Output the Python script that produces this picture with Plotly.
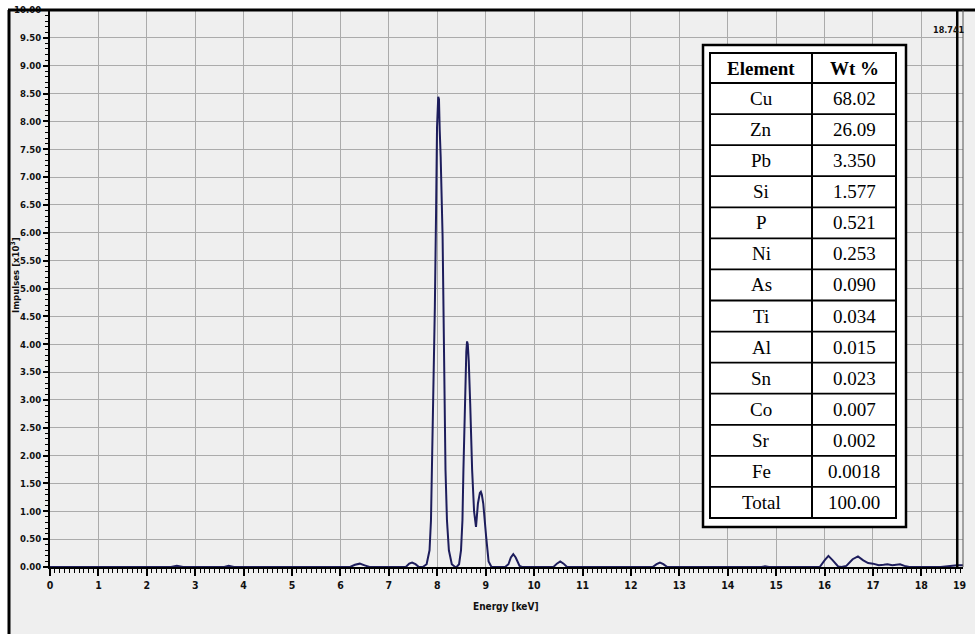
import plotly.graph_objects as go

# ---------------- data ----------------
energy_kev = [
    0.00, 2.50, 2.62, 2.75, 3.60, 3.69, 3.80, 6.20, 6.30, 6.40, 6.50, 6.60,
    7.35, 7.42, 7.48, 7.55, 7.62, 7.70,
    7.78, 7.84, 7.87, 7.89, 7.92, 7.94, 7.95, 7.975, 7.995, 8.02, 8.035, 8.05,
    8.07, 8.11, 8.13, 8.14, 8.17, 8.20, 8.24, 8.30, 8.37,
    8.40, 8.45, 8.49, 8.52, 8.54, 8.57, 8.59, 8.60, 8.615, 8.63, 8.65, 8.66,
    8.68, 8.72, 8.76, 8.80, 8.84, 8.88, 8.90, 8.92, 8.95, 9.01, 9.06, 9.12,
    9.40, 9.47, 9.52, 9.57, 9.62, 9.70, 9.75,
    10.40, 10.47, 10.54, 10.61, 10.68,
    12.45, 12.53, 12.60, 12.67, 12.75,
    14.70, 14.77, 14.85,
    15.90, 16.00, 16.08, 16.17, 16.28, 16.35, 16.45, 16.58, 16.69, 16.80,
    16.90, 17.00, 17.12, 17.22, 17.30, 17.40, 17.50, 17.56, 17.65, 17.75,
    18.40, 18.60, 18.74, 18.86,
]
impulses_k = [
    0.00, 0.00, 0.02, 0.00, 0.00, 0.02, 0.00, 0.00, 0.04, 0.06, 0.03, 0.00,
    0.00, 0.06, 0.08, 0.05, 0.00, 0.00,
    0.05, 0.30, 0.84, 1.74, 2.94, 3.54, 4.67, 6.35, 7.90, 8.44, 8.40, 7.85,
    7.37, 5.93, 4.31, 2.94, 1.74, 0.84, 0.30, 0.05, 0.00,
    0.00, 0.05, 0.30, 0.84, 1.74, 2.94, 3.54, 3.87, 4.05, 4.00, 3.70, 3.50,
    2.94, 1.74, 1.00, 0.72, 1.14, 1.33, 1.35, 1.30, 1.14, 0.54, 0.10, 0.00,
    0.00, 0.05, 0.17, 0.23, 0.17, 0.02, 0.00,
    0.00, 0.06, 0.10, 0.06, 0.00,
    0.00, 0.05, 0.08, 0.05, 0.00,
    0.00, 0.015, 0.00,
    0.00, 0.12, 0.20, 0.12, 0.01, 0.00, 0.02, 0.14, 0.19, 0.12,
    0.07, 0.06, 0.03, 0.04, 0.05, 0.03, 0.04, 0.05, 0.02, 0.00,
    0.00, 0.02, 0.03, 0.03,
]

elements = ["Cu", "Zn", "Pb", "Si", "P", "Ni", "As", "Ti", "Al", "Sn", "Co", "Sr", "Fe", "Total"]
wt_percent = ["68.02", "26.09", "3.350", "1.577", "0.521", "0.253", "0.090", "0.034",
              "0.015", "0.023", "0.007", "0.002", "0.0018", "100.00"]
table_header = ["Element", "Wt %"]

x_tick_values = list(range(0, 19))
x_last_label = "19"
cursor_energy = 18.741
x_range = [0.0, 18.86]
y_range = [0.0, 10.0]

# ---------------- figure ----------------
W, H = 975, 634
ML, MR, MT, MB = 50, 12, 10, 67
PW, PH = W - ML - MR, H - MT - MB


def px_x(px):
    return (px - ML) / PW


def px_y(py):
    return (H - MB - py) / PH


FAM = "Liberation Sans Narrow, DejaVu Sans Condensed, Liberation Sans, Arial, sans-serif"
SERIF = "Liberation Serif, Times New Roman, serif"
xtick_font = dict(family=FAM, size=10.5, color="#111", weight="bold")
ytick_font = dict(family=FAM, size=9.5, color="#111", weight="bold")

fig = go.Figure()
fig.add_trace(go.Scatter(
    x=energy_kev, y=impulses_k, mode="lines",
    line=dict(color="#1d1d5c", width=2), showlegend=False, hoverinfo="skip",
))

# ---------------- table (built from the data lists) ----------------
TX0, TXC, TX1 = 710, 812, 896          # inner table left, column divider, right (px)
TY0, TY1 = 53, 518                     # inner table top, bottom (px)
HEAD_H = 30
ROW_H = (TY1 - TY0 - HEAD_H) / len(elements)
row_edges = [TY0, TY0 + HEAD_H] + [TY0 + HEAD_H + ROW_H * (i + 1) for i in range(len(elements))]

table_shapes = [
    dict(type="rect", xref="paper", yref="paper", layer="above",
         x0=px_x(703), x1=px_x(906), y0=px_y(527), y1=px_y(45),
         fillcolor="white", line=dict(color="black", width=2.5)),
    dict(type="rect", xref="paper", yref="paper", layer="above",
         x0=px_x(TX0), x1=px_x(TX1), y0=px_y(TY1), y1=px_y(TY0),
         fillcolor="white", line=dict(color="black", width=2)),
    dict(type="line", xref="paper", yref="paper", layer="above",
         x0=px_x(TXC), x1=px_x(TXC), y0=px_y(TY1), y1=px_y(TY0),
         line=dict(color="black", width=2)),
]
for ey in row_edges[1:-1]:
    table_shapes.append(dict(type="line", xref="paper", yref="paper", layer="above",
                             x0=px_x(TX0), x1=px_x(TX1), y0=px_y(ey), y1=px_y(ey),
                             line=dict(color="black", width=1.8)))

table_annotations = []
col_centers = [(TX0 + TXC) / 2, (TXC + TX1) / 2]
for j, h in enumerate(table_header):
    table_annotations.append(dict(
        text="<b>%s</b>" % h, xref="paper", yref="paper", showarrow=False,
        x=px_x(col_centers[j]), y=px_y((row_edges[0] + row_edges[1]) / 2),
        xanchor="center", yanchor="middle",
        font=dict(family=SERIF, size=19, color="black")))
for i, (el, wt) in enumerate(zip(elements, wt_percent)):
    cy = (row_edges[i + 1] + row_edges[i + 2]) / 2
    for j, val in enumerate([el, wt]):
        table_annotations.append(dict(
            text=val, xref="paper", yref="paper", showarrow=False,
            x=px_x(col_centers[j]), y=px_y(cy), xanchor="center", yanchor="middle",
            font=dict(family=SERIF, size=19, color="black")))

fig.update_layout(
    width=W, height=H,
    margin=dict(l=ML, r=MR, t=MT, b=MB, pad=0, autoexpand=False),
    paper_bgcolor="white",
    plot_bgcolor="#efefef",
    showlegend=False,
    xaxis=dict(
        range=x_range, tickmode="array", tickvals=x_tick_values, automargin=False,
        ticks="outside", ticklen=7, tickwidth=1.5, tickcolor="black",
        showgrid=True, gridcolor="#ababab", gridwidth=1,
        showline=True, linecolor="black", linewidth=2,
        zeroline=False, tickfont=xtick_font,
        minor=dict(dtick=0.1, tick0=0, ticks="outside", ticklen=4, tickcolor="black", tickwidth=1, showgrid=False),
    ),
    yaxis=dict(
        range=y_range, dtick=0.5, tick0=0, tickformat=".2f", automargin=False,
        ticks="outside", ticklen=5, tickwidth=1.5, tickcolor="black",
        showgrid=True, gridcolor="#ababab", gridwidth=1,
        showline=True, linecolor="black", linewidth=2,
        zeroline=False, tickfont=ytick_font,
        minor=dict(dtick=0.1, tick0=0, ticks="outside", ticklen=3, tickcolor="black", tickwidth=1, showgrid=False),
    ),
    shapes=[
        # grey panel with black frame (left and top)
        dict(type="rect", xref="paper", yref="paper", layer="below",
             x0=px_x(9), x1=px_x(980), y0=px_y(640), y1=px_y(10),
             fillcolor="#efefef", line=dict(width=0)),
        dict(type="line", xref="paper", yref="paper", layer="above",
             x0=px_x(9), x1=px_x(9), y0=px_y(640), y1=px_y(10),
             line=dict(color="black", width=3)),
        dict(type="line", xref="paper", yref="paper", layer="above",
             x0=px_x(8), x1=px_x(980), y0=1, y1=1,
             line=dict(color="black", width=3)),
        # right border of plot
        dict(type="line", xref="paper", yref="paper", layer="above",
             x0=1, x1=1, y0=0, y1=1, line=dict(color="#555", width=1)),
        # cursor line
        dict(type="line", xref="x", yref="paper", layer="above",
             x0=cursor_energy, x1=cursor_energy, y0=0, y1=1,
             line=dict(color="black", width=2.5)),
        *table_shapes,
    ],
    annotations=[
        dict(text="Impulses [x10<sup>3</sup>]", textangle=-90, xref="paper", yref="paper",
             x=px_x(15), y=px_y(275), showarrow=False, xanchor="center", yanchor="middle",
             font=dict(family=FAM, size=9.5, color="#111", weight="bold")),
        dict(text="Energy [keV]", xref="paper", yref="paper",
             x=px_x(506), y=px_y(606), showarrow=False, xanchor="center", yanchor="middle",
             font=dict(family=FAM, size=10, color="#111", weight="bold")),
        dict(text=x_last_label, xref="x", yref="paper",
             x=18.78, y=px_y(585), showarrow=False, xanchor="center", yanchor="middle",
             font=xtick_font),
        dict(text=f"{cursor_energy:.3f}", xref="paper", yref="paper",
             x=px_x(967), y=px_y(30), showarrow=False, xanchor="right", yanchor="middle",
             font=dict(family=FAM, size=9, color="#111", weight="bold")),
        *table_annotations,
    ],
)

fig.write_html("out.html", post_script="document.body.style.margin='0';",
               config={"displayModeBar": False})
